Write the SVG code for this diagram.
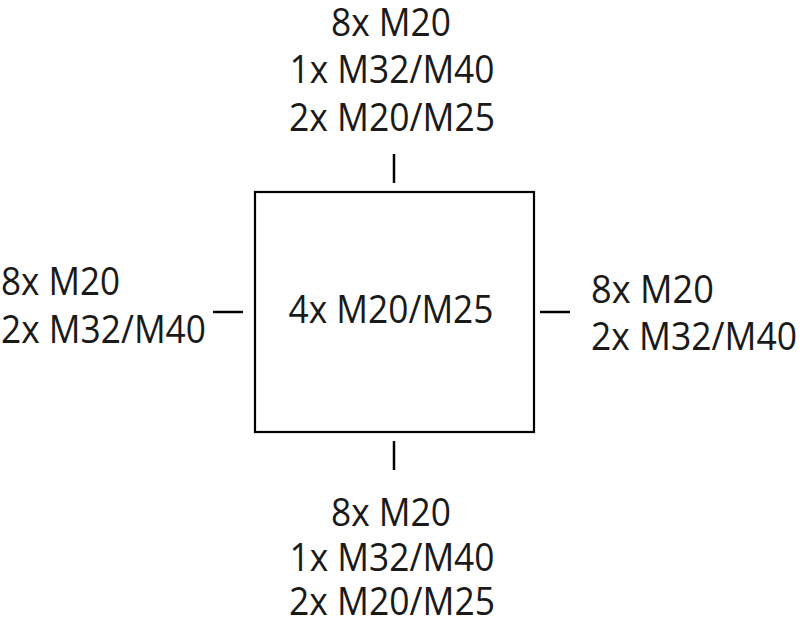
<svg xmlns="http://www.w3.org/2000/svg" width="800" height="630" viewBox="0 0 800 630">
<style>
text{font-family:"Open Sans","Noto Sans","DejaVu Sans",sans-serif;font-size:38px;fill:#1a1a1a}
.c{text-anchor:middle}
.ln{stroke:#000;stroke-width:2.5;fill:none}
</style>
<rect width="800" height="630" fill="#fff"/>
<g id="box">
<rect x="255" y="192" width="279" height="240" fill="none" stroke="#000" stroke-width="2.2"/>
<text class="c" x="391" y="323" textLength="205" lengthAdjust="spacingAndGlyphs">4x M20/M25</text>
</g>
<g id="top">
<text class="c" x="391" y="36" textLength="120" lengthAdjust="spacingAndGlyphs">8x M20</text>
<text class="c" x="392" y="83" textLength="205" lengthAdjust="spacingAndGlyphs">1x M32/M40</text>
<text class="c" x="392" y="131" textLength="206" lengthAdjust="spacingAndGlyphs">2x M20/M25</text>
</g>
<g id="bottom">
<text class="c" x="391" y="526" textLength="120" lengthAdjust="spacingAndGlyphs">8x M20</text>
<text class="c" x="392" y="571" textLength="205" lengthAdjust="spacingAndGlyphs">1x M32/M40</text>
<text class="c" x="392" y="615" textLength="206" lengthAdjust="spacingAndGlyphs">2x M20/M25</text>
</g>
<g id="left">
<text x="1" y="295" textLength="119" lengthAdjust="spacingAndGlyphs">8x M20</text>
<text x="1" y="343" textLength="205" lengthAdjust="spacingAndGlyphs">2x M32/M40</text>
</g>
<g id="right">
<text x="591" y="303" textLength="123" lengthAdjust="spacingAndGlyphs">8x M20</text>
<text x="591" y="350" textLength="206" lengthAdjust="spacingAndGlyphs">2x M32/M40</text>
</g>
<g id="connectors">
<line class="ln" x1="394" y1="154" x2="394" y2="183"/>
<line class="ln" x1="394" y1="441" x2="394" y2="470"/>
<line class="ln" x1="213" y1="312" x2="243" y2="312"/>
<line class="ln" x1="540" y1="312" x2="570" y2="312"/>
</g>
</svg>
